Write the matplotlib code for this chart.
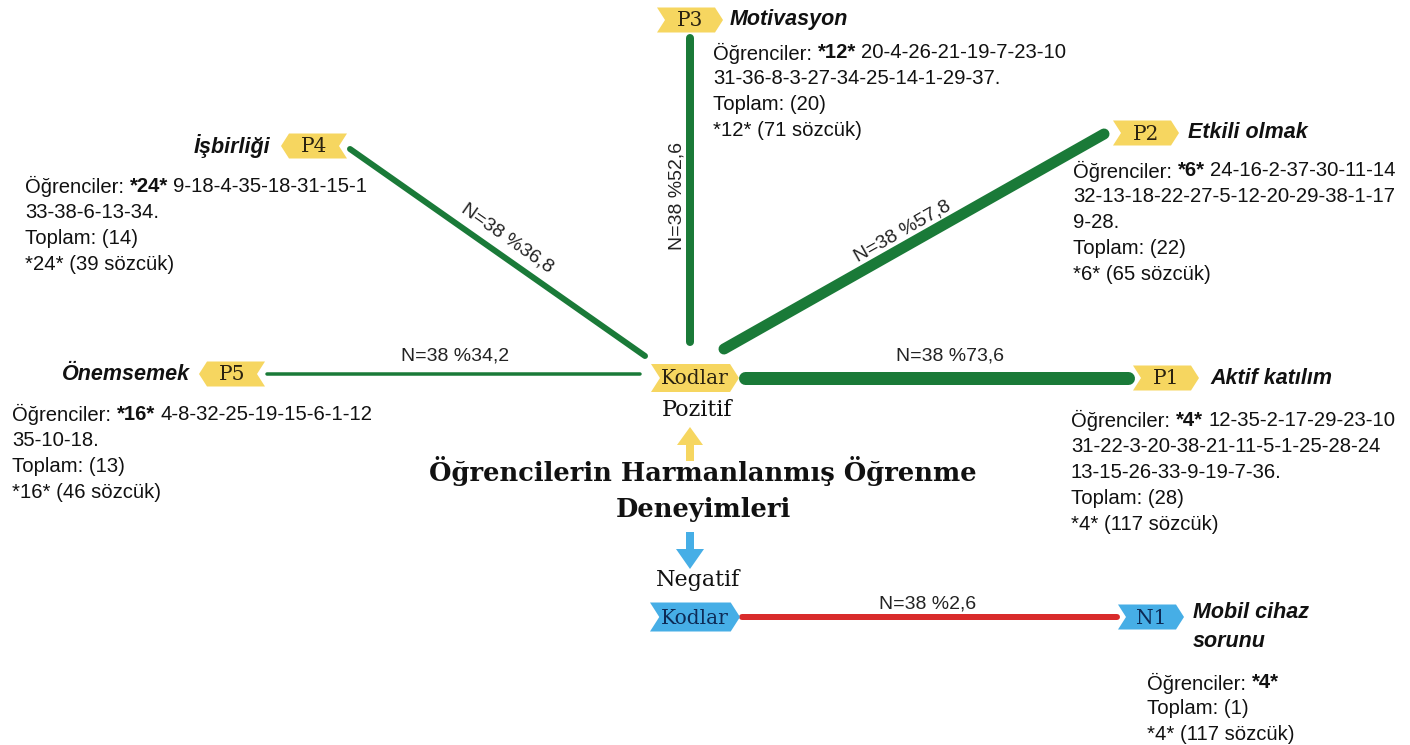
import matplotlib
matplotlib.use("Agg")
import matplotlib.pyplot as plt
from matplotlib.patches import Polygon, FancyArrow
import numpy as np

# ---------------- data ----------------
N_total = 38
title = "Öğrencilerin Harmanlanmış Öğrenme\nDeneyimleri"
pos_codes = ["P1", "P2", "P3", "P4", "P5"]
pos_names = ["Aktif katılım", "Etkili olmak", "Motivasyon", "İşbirliği", "Önemsemek"]
pos_pct = [73.6, 57.8, 52.6, 36.8, 34.2]
pos_key_student = [4, 6, 12, 24, 16]
pos_students = [
    [12, 35, 2, 17, 29, 23, 10, 31, 22, 3, 20, 38, 21, 11, 5, 1, 25, 28, 24, 13, 15, 26, 33, 9, 19, 7, 36],
    [24, 16, 2, 37, 30, 11, 14, 32, 13, 18, 22, 27, 5, 12, 20, 29, 38, 1, 17, 9, 28],
    [20, 4, 26, 21, 19, 7, 23, 10, 31, 36, 8, 3, 27, 34, 25, 14, 1, 29, 37],
    [9, 18, 4, 35, 18, 31, 15, 1, 33, 38, 6, 13, 34],
    [4, 8, 32, 25, 19, 15, 6, 1, 12, 35, 10, 18],
]
pos_total = [28, 22, 20, 14, 13]
pos_words = [117, 65, 71, 39, 46]

neg_codes = ["N1"]
neg_names = ["Mobil cihaz\nsorunu"]
neg_pct = [2.6]
neg_key_student = [4]
neg_students = [[]]
neg_total = [1]
neg_words = [117]

# ---------------- layout / style ----------------
W, H = 1410, 745
fig = plt.figure(figsize=(W / 100, H / 100), dpi=100)
ax = fig.add_axes([0, 0, 1, 1])
ax.set_xlim(0, W)
ax.set_ylim(H, 0)
ax.axis("off")
renderer = fig.canvas.get_renderer()

GREEN = "#1a7a38"
RED = "#d92b2b"
YELLOW = "#f6d660"
BLUE = "#46aee6"
SANS = "Liberation Sans"
SERIF = "DejaVu Serif"
FS = 14.6

# positions for each positive branch: line start, line end, tag centre, tag side
pos_layout = [
    dict(p0=(745, 378), p1=(1128, 378), tag=(1166, 378), side="right", lw=13,
         lab=(1210, 378), block=(1071, 420), breaks=[7, 12, 8],
         nlab=(950, 356), rot=0),
    dict(p0=(724, 349), p1=(1104, 134), tag=(1146, 133), side="right", lw=11,
         lab=(1188, 133), block=(1073, 171), breaks=[7, 12, 2],
         nlab=(903, 231), rot=29.5),
    dict(p0=(690, 342), p1=(690, 38), tag=(690, 20), side="right", lw=8,
         lab=(730, 20), block=(713, 53), breaks=[8, 11],
         nlab=(677, 196), rot=90),
    dict(p0=(645, 356), p1=(350, 149), tag=(314, 146), side="left", lw=6,
         lab=(270, 146), block=(25, 186), breaks=[8, 5],
         nlab=(507, 238), rot=-35),
    dict(p0=(640, 374), p1=(267, 374), tag=(232, 374), side="left", lw=3.5,
         lab=(190, 374), block=(12, 414), breaks=[9, 3],
         nlab=(455, 356), rot=0),
]
neg_layout = [
    dict(p0=(742, 617), p1=(1117, 617), tag=(1151, 617), side="right", lw=6,
         lab=(1193, 627), block=(1147, 683), breaks=[],
         nlab=(928, 604), rot=0),
]


def tag(cx, cy, w, h, color, text, side="right", tcolor="#2a2210", fs=14):
    p = h * 0.32
    x0, x1 = cx - w / 2, cx + w / 2
    y0, y1 = cy - h / 2, cy + h / 2
    if side == "right":
        pts = [(x0, y0), (x1 - p, y0), (x1, cy), (x1 - p, y1), (x0, y1), (x0 + p, cy)]
    else:
        pts = [(x1, y0), (x0 + p, y0), (x0, cy), (x0 + p, y1), (x1, y1), (x1 - p, cy)]
    ax.add_patch(Polygon(pts, closed=True, facecolor=color, edgecolor="none", zorder=3))
    ax.text(cx, cy + 1, text, ha="center", va="center", fontsize=fs,
            family=SERIF, color=tcolor, zorder=4)


def rich_line(x, y, parts):
    for s, weight in parts:
        t = ax.text(x, y, s, ha="left", va="center", fontsize=FS, family=SANS,
                    fontweight=weight, color="#111111")
        bb = t.get_window_extent(renderer)
        x += bb.width + 5.5


def block(x, y, key, students, total, words, breaks):
    lines = []
    idx = 0
    for i, b in enumerate(breaks):
        seg = "-".join(str(s) for s in students[idx:idx + b])
        idx += b
        if i == len(breaks) - 1:
            seg += "."
        lines.append(seg)
    first = [("Öğrenciler:", "normal"), (f"*{key}*", "bold")]
    if lines:
        first.append((lines[0], "normal"))
    rest = lines[1:] + [f"Toplam: ({total})", f"*{key}* ({words} sözcük)"]
    rich_line(x, y, first)
    for i, s in enumerate(rest):
        ax.text(x, y + 26 * (i + 1), s, ha="left", va="center", fontsize=FS,
                family=SANS, color="#111111")


def branch(L, code, name, pct, key, students, total, words, color, tagcolor, tcolor):
    ax.plot([L["p0"][0], L["p1"][0]], [L["p0"][1], L["p1"][1]], color=color,
            lw=L["lw"] * 0.72, solid_capstyle="round", zorder=2)
    tag(L["tag"][0], L["tag"][1], 66, 25, tagcolor, code, L["side"], tcolor, fs=14.5)
    ha = "left" if L["side"] == "right" else "right"
    ax.text(L["lab"][0], L["lab"][1], name, ha=ha, va="center", fontsize=15.5,
            family=SANS, fontweight="bold", fontstyle="italic", color="#111111",
            linespacing=1.45)
    ax.text(L["nlab"][0], L["nlab"][1], f"N={N_total} %{str(pct).replace('.', ',')}",
            ha="center", va="center", fontsize=14, family=SANS, color="#222222",
            rotation=L["rot"], rotation_mode="anchor")
    block(L["block"][0], L["block"][1], key, students, total, words, L["breaks"])


for i in range(len(pos_codes)):
    branch(pos_layout[i], pos_codes[i], pos_names[i], pos_pct[i], pos_key_student[i],
           pos_students[i], pos_total[i], pos_words[i], GREEN, YELLOW, "#2a2210")
for i in range(len(neg_codes)):
    branch(neg_layout[i], neg_codes[i], neg_names[i], neg_pct[i], neg_key_student[i],
           neg_students[i], neg_total[i], neg_words[i], RED, BLUE, "#0d2a55")

# central "Kodlar" tags
tag(695, 378, 88, 28, YELLOW, "Kodlar", "right", "#2a2210", fs=14.5)
tag(695, 617, 90, 29, BLUE, "Kodlar", "right", "#0d2a55", fs=14.5)

ax.text(697, 410, "Pozitif", ha="center", va="center", fontsize=16, family=SERIF, color="#111111")
ax.text(698, 580, "Negatif", ha="center", va="center", fontsize=16, family=SERIF, color="#111111")

# arrows
ax.add_patch(FancyArrow(690, 461, 0, -34, width=8, head_width=26, head_length=18,
                        length_includes_head=True, color=YELLOW, ec="none", zorder=3))
ax.add_patch(FancyArrow(690, 532, 0, 37, width=8, head_width=28, head_length=20,
                        length_includes_head=True, color=BLUE, ec="none", zorder=3))

ax.text(703, 489, title, ha="center", va="center", fontsize=18.5, family=SERIF,
        fontweight="bold", color="#111111", linespacing=1.5)

fig.savefig("out.png", dpi=100)
